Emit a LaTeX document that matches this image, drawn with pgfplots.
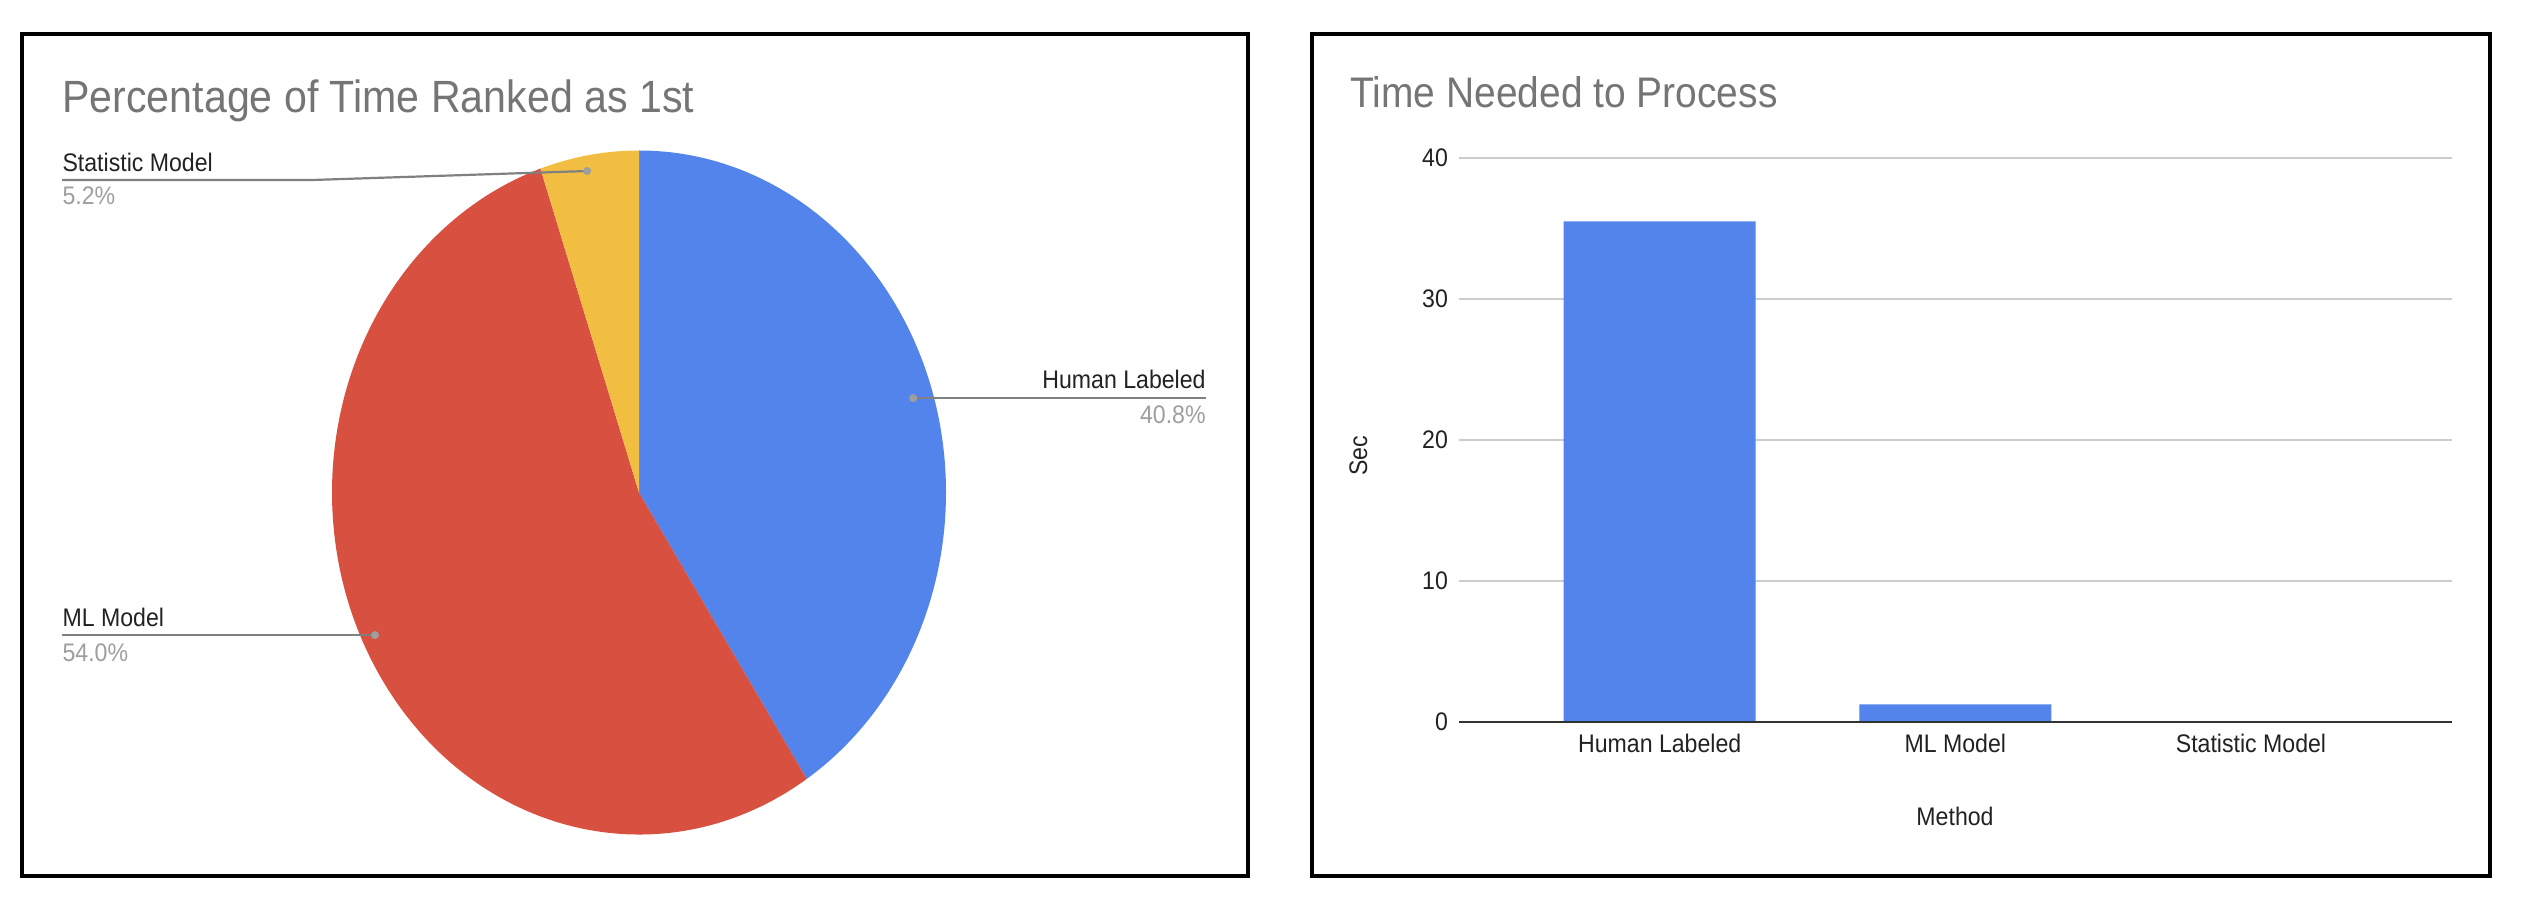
\documentclass[border=0pt]{standalone}
\usepackage{pgfplots}
\pgfplotsset{compat=1.18}
\usepackage{fontspec}
\setmainfont{Liberation Sans}[FakeStretch=0.91]

\definecolor{cH}{HTML}{5384EC}
\definecolor{cM}{HTML}{D85140}
\definecolor{cS}{HTML}{F2BE42}
\definecolor{ttl}{HTML}{757575}
\definecolor{txt}{HTML}{222222}
\definecolor{pct}{HTML}{9E9E9E}
\definecolor{lead}{HTML}{808080}
\definecolor{grd}{HTML}{CCCCCC}
\definecolor{zero}{HTML}{333333}

\newcommand\lbl{\fontsize{12.7pt}{14pt}\selectfont}
\newcommand\ttlfontL{\fontsize{22.6pt}{26pt}\selectfont}
\newcommand\ttlfontR{\fontsize{21.4pt}{24pt}\selectfont}

% shares of "ranked 1st", in percent
\def\pH{40.8}
\def\pM{54.0}
\def\pS{5.2}
\pgfmathsetmacro\aH{90-3.6*\pH}
\pgfmathsetmacro\aM{\aH-3.6*\pM}
\pgfmathsetmacro\aS{\aM-3.6*\pS}

\begin{document}
\begin{tikzpicture}[x=0.5pt,y=0.5pt]
\path (0,0) rectangle (2524,906);

% frames
\draw[line width=2pt] (22,30) rectangle (1248,872);
\draw[line width=2pt] (1312,30) rectangle (2490,872);

% ---------- pie ----------
\begin{axis}[
    at={(319.5pt,206.75pt)}, anchor=center,
    scale only axis, width=307pt, height=342pt,
    xmin=-1, xmax=1, ymin=-1, ymax=1,
    hide axis, clip=false,
]
  \fill[cH] (axis cs:0,0) -- (axis cs:0,1)
     arc[start angle=90, end angle=\aH, x radius=153.5pt, y radius=171pt] -- cycle;
  \fill[cM] (axis cs:0,0) -- (axis cs:{cos(\aH)},{sin(\aH)})
     arc[start angle=\aH, end angle=\aM, x radius=153.5pt, y radius=171pt] -- cycle;
  \fill[cS] (axis cs:0,0) -- (axis cs:{cos(\aM)},{sin(\aM)})
     arc[start angle=\aM, end angle=\aS, x radius=153.5pt, y radius=171pt] -- cycle;

  % leader lines
  \addplot[lead, line width=1.1pt, mark=none] coordinates {(-1.879,0.914) (-1.055,0.914) (-0.169,0.940)};
  \addplot[lead, line width=1.1pt, mark=none] coordinates {(0.893,0.276) (1.847,0.276)};
  \addplot[lead, line width=1.1pt, mark=none] coordinates {(-1.879,-0.417) (-0.860,-0.417)};
  \addplot[only marks, mark=*, mark size=1.8pt, pct, mark options={draw=pct}]
     coordinates {(-0.169,0.940) (0.893,0.276) (-0.860,-0.417)};

  \tikzset{lab/.style={font=\lbl, inner sep=0pt}}
  \node[lab, anchor=base west, text=txt] at (axis cs:-1.879,0.938) {Statistic Model};
  \node[lab, anchor=base west, text=pct] at (axis cs:-1.879,0.841) {5.2\%};
  \node[lab, anchor=base east, text=txt] at (axis cs:1.847,0.303) {Human Labeled};
  \node[lab, anchor=base east, text=pct] at (axis cs:1.847,0.203) {40.8\%};
  \node[lab, anchor=base west, text=txt] at (axis cs:-1.879,-0.393) {ML Model};
  \node[lab, anchor=base west, text=pct] at (axis cs:-1.879,-0.493) {54.0\%};
\end{axis}

\node[anchor=base west, font=\ttlfontL, text=ttl, inner sep=0pt] at (62,793) {Percentage of Time Ranked as 1st};

% ---------- bars ----------
\begin{axis}[
    at={(729.5pt,92pt)}, anchor=south west,
    scale only axis, width=496.5pt, height=282pt,
    xmin=-0.679, xmax=2.68, ymin=0, ymax=40,
    ytick={0,10,20,30,40},
    xtick={0,1,2},
    xticklabels={Human Labeled, ML Model, Statistic Model},
    axis line style={draw=none},
    major tick style={draw=none},
    ymajorgrids, major grid style={grd, line width=0.8pt},
    tick label style={font=\lbl, text=txt},
    /pgf/number format/assume math mode=true,
    xticklabel style={anchor=base, yshift=-15pt},
    yticklabel style={anchor=east, xshift=-2pt},
]
  \addplot[ybar, bar width=96pt, fill=cH, draw=none]
     coordinates {(0,35.5) (1,1.25) (2,0)};
  \addplot[zero, line width=1.2pt, mark=none] coordinates {(-0.679,0) (2.68,0)};
\end{axis}

\node[anchor=base west, font=\ttlfontR, text=ttl, inner sep=0pt] at (1350,798) {Time Needed to Process};
\node[rotate=90, anchor=base, font=\lbl, text=txt] at (1367,450) {Sec};
\node[anchor=base, font=\lbl, text=txt] at (1955,81) {Method};
\end{tikzpicture}
\end{document}
